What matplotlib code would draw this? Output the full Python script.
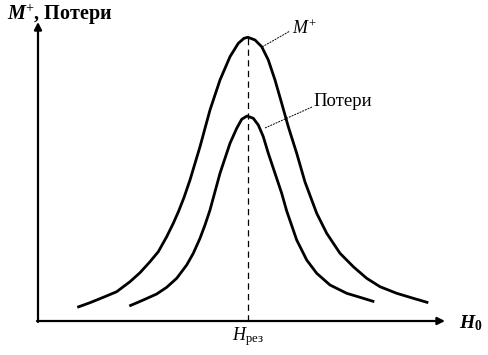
import matplotlib
matplotlib.use('Agg')
import matplotlib.pyplot as plt

plt.rcParams['font.family'] = ['Liberation Serif', 'DejaVu Serif']
plt.rcParams['mathtext.fontset'] = 'custom'
plt.rcParams['mathtext.rm'] = 'Liberation Serif'
plt.rcParams['mathtext.it'] = 'Liberation Serif:italic'
plt.rcParams['mathtext.bf'] = 'Liberation Serif:bold'
plt.rcParams['mathtext.bfit'] = 'Liberation Serif:bold:italic'

# M+ curve (H0, value), origin at the axes crossing
m_h = [39.3, 52, 65.3, 78.7, 92, 102, 112, 120.3, 128.7, 135.3, 140.5, 146, 152, 162, 172,
       182, 192, 200.3, 206, 210, 217, 223.7, 230.3, 237, 243.7, 250.3, 258.7, 267,
       278.7, 288.7, 302, 315.3, 328.7, 342, 358.7, 375.3, 390.3]
m_v = [13.7, 18.3, 23.7, 29.3, 39.3, 48.3, 59.3, 69.3, 84.3, 97.7, 109.5, 123.5, 141, 174.3, 211,
       241, 264.3, 277.7, 282.7, 283.7, 281, 274.3, 261, 241, 217.7, 194.3, 167.7, 139,
       107.7, 87.7, 67.7, 54.3, 42.7, 34.3, 27.7, 22.7, 18.3]

# Потери curve
p_h = [91.3, 105.3, 118.7, 128.7, 138.7, 148.7, 155.3, 162, 167, 172, 182, 192, 198.7,
       203.7, 209, 215.3, 220.3, 225.3, 230.3, 237, 243.7, 248.7, 258.7, 268.7, 278.7,
       292, 308.7, 322, 336.3]
p_v = [15, 21, 27, 33.7, 42.7, 56, 67.7, 82.7, 96, 111, 147.7, 177.7, 192.7,
       201.7, 205, 202.7, 196, 184.3, 167.7, 147.7, 127.7, 110, 81, 61, 47.7,
       36, 27.7, 23.7, 19.3]

h_res = 210
x_end, y_end = 407, 299

fig = plt.figure(figsize=(4.88, 3.55), dpi=100)
ax = fig.add_axes([0, 0, 1, 1])
ax.set_xlim(-38, 450)
ax.set_ylim(-34, 321)
ax.axis('off')

# axes with arrows
ax.annotate('', xy=(x_end, 0), xytext=(-1, 0),
            arrowprops=dict(arrowstyle='-|>', lw=1.6, color='k', mutation_scale=11,
                            shrinkA=0, shrinkB=0))
ax.annotate('', xy=(0, y_end), xytext=(0, -1),
            arrowprops=dict(arrowstyle='-|>', lw=1.6, color='k', mutation_scale=11,
                            shrinkA=0, shrinkB=0))

# resonance line
ax.plot([h_res, h_res], [0, 287], color='k', lw=0.9, ls=(0, (5, 3.5)))

ax.plot(m_h, m_v, color='k', lw=2.0, solid_capstyle='butt', solid_joinstyle='round')
ax.plot(p_h, p_v, color='k', lw=2.0, solid_capstyle='butt', solid_joinstyle='round')

# leaders and labels
ax.plot([224, 252], [274, 290], color='k', lw=0.7, ls=(0, (2, 1)))
ax.text(254, 292, r'$\mathit{M}^{+}$', fontsize=13, ha='left', va='center')
ax.plot([227, 274], [193, 214], color='k', lw=0.7, ls=(0, (2, 1)))
ax.text(275, 220, 'Потери', fontsize=13.5, ha='left', va='center')

ax.text(-31, 307, r'$\mathbfit{M}^{+}$, Потери', fontsize=14.5, fontweight='bold',
        ha='left', va='center')
ax.text(421, -2, r'$\mathbfit{H}_{\mathbf{0}}$', fontsize=14, ha='left', va='center')
ax.text(h_res, -16, r'$\mathit{H}_{\mathrm{рез}}$', fontsize=13, ha='center', va='center')

fig.savefig('out.png', dpi=100)
